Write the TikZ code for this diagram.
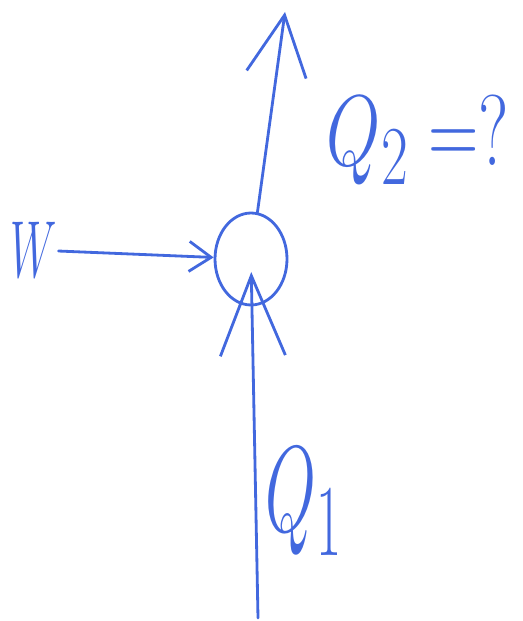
\documentclass[tikz,border=0pt]{standalone}
\usepackage{graphicx}
\usepackage{tikz}
\usetikzlibrary{arrows.meta,shapes.geometric}
\definecolor{pen}{RGB}{66,104,222}
\newcommand{\slim}[3]{\scalebox{#1}[#2]{\Huge #3}}
\begin{document}
\begin{tikzpicture}[x=0.02cm,y=-0.02cm,line width=1.6pt,pen,line cap=round,line join=round,
hand/.style={inner sep=0pt},
junction/.style={draw,ellipse,minimum width=1.44cm,minimum height=1.84cm,inner sep=0pt}]
\useasboundingbox(0,0)rectangle(523,621);
\node[junction](mix) at (251,259){};
\coordinate(top) at (285,12);
\coordinate(bot) at (258,618);
\node[hand](W) at (34,250){\slim{1.0}{1.85}{$W$}};
\node[hand](q2) at (418,140){\slim{1.6}{2.3}{$Q_2 = ?$}};
\node[hand](q1) at (304,502){\slim{1.5}{2.8}{$Q_1$}};
\draw[-{Straight Barb[length=0.44cm,width=0.6cm]}](W)--(mix);
\draw[-{Straight Barb[length=1.2cm,width=1.2cm]}](mix)--(top);
\draw[-{Straight Barb[length=1.6cm,width=1.3cm]},shorten >=0.26cm](bot)--(mix.center);
\end{tikzpicture}
\end{document}
